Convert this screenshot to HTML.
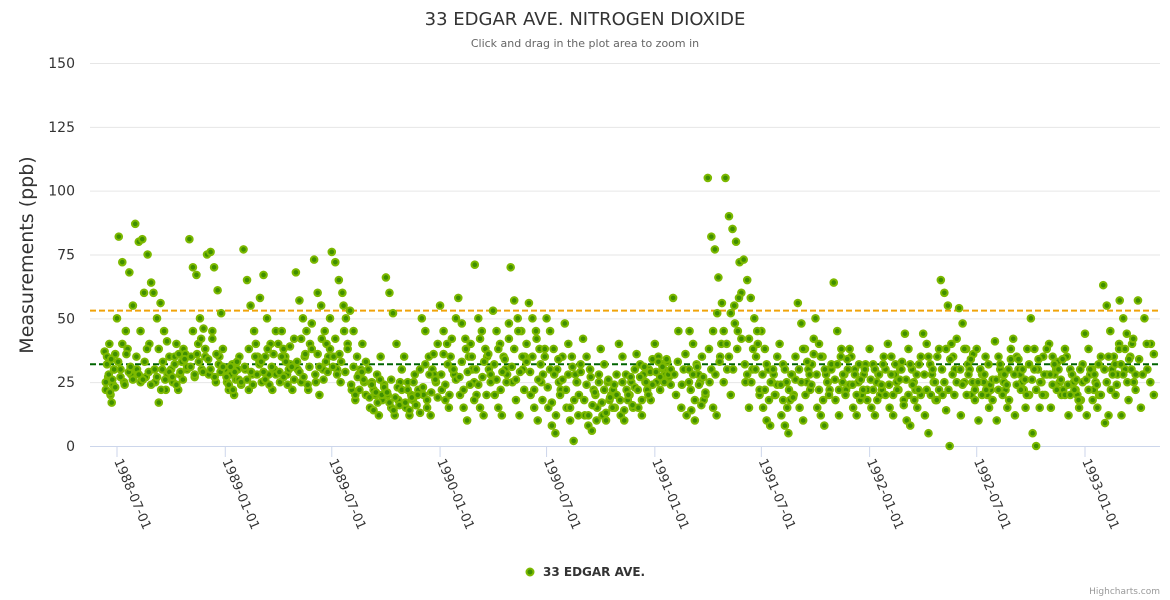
<!DOCTYPE html>
<html><head><meta charset="utf-8"><style>
html,body{margin:0;padding:0;background:#fff;}
svg{display:block;font-family:"DejaVu Sans","Liberation Sans",sans-serif;}
</style></head><body>
<svg id="chart" width="1170" height="600" xmlns="http://www.w3.org/2000/svg">
<rect width="1170" height="600" fill="#fff"/>
<text x="585" y="25" text-anchor="middle" font-size="18" fill="#333">33 EDGAR AVE. NITROGEN DIOXIDE</text>
<text x="585" y="47" text-anchor="middle" font-size="11" fill="#666">Click and drag in the plot area to zoom in</text>
<text transform="translate(33,255) rotate(-90)" text-anchor="middle" font-size="19" fill="#333">Measurements (ppb)</text>
<g id="grid"></g><g id="ylabels"></g><g id="xaxis"></g><g id="plotlines"></g><g id="points"></g>
<g>
<circle cx="530" cy="572" r="3.5" fill="#3f8f00" stroke="#7cb900" stroke-width="2"/>
<text x="543" y="576" font-size="12" font-weight="bold" fill="#333">33 EDGAR AVE.</text>
</g>
<text x="1160" y="594" text-anchor="end" font-size="9" fill="#999">Highcharts.com</text>
</svg>
<script>
const yTicks=[0,25,50,75,100,125,150];
const xTickLabels=["1988-07-01","1989-01-01","1989-07-01","1990-01-01","1990-07-01","1991-01-01","1991-07-01","1992-01-01","1992-07-01","1993-01-01"];
const refLines=[53,32];
const startMonth=[1988,5];
const monthStartDay=[10];
const monthlyValues=[
[37,22,35,27,40,20,17,24,30,36],
[50,82,30,72,25,45,38,68,28,55],
[87,30,80,25,81,60,27,75,40,64],
[60,25,50,17,56,30,45,22,28,35],
[30,25,35,40,22,28,33,38,36,30],
[81,35,70,27,67,40,50,30,46,38],
[75,28,76,45,70,25,61,35,52,38],
[30,25,22,28,32,20,26,30,35,24],
[77,30,65,22,55,28,45,40,35,33],
[58,25,67,35,50,28,40,22,30,45],
[40,25,45,38,35,28,30,32,22,42],
[68,30,57,25,50,35,45,22,40,48],
[73,25,60,20,55,30,45,40,35,50],
[76,35,72,30,65,25,60,45,50,40],
[53,22,45,18,35,28,30,40,25,20],
[30,15,25,22,20,28,12,35,18,24],
[66,20,60,15,52,12,40,18,25,30],
[35,15,25,12,20,18,28,16,22,30],
[50,20,45,15,35,12,30,28,25,40],
[55,22,45,18,40,15,35,30,28,50],
[58,20,48,15,42,10,35,40,30,25],
[71,20,50,15,45,12,38,35,30,25],
[53,20,45,15,40,12,35,30,28,48],
[70,25,57,18,50,12,45,30,35,40],
[56,20,50,15,45,10,38,25,28,35],
[50,15,45,8,38,5,30,25,22,35],
[48,15,40,10,35,2,28,25,20,32],
[42,12,35,8,30,6,22,20,15,28],
[38,12,32,10,25,18,20,22,15,28],
[40,12,35,10,28,18,20,25,15,30],
[36,15,32,12,28,25,22,30,18,34],
[40,25,35,22,32,30,28,33,27,24],
[58,20,45,15,30,12,25],
[45,14,40,10,32,28,25,35,18,20],
[105,25,82,15,77,12,66,35,56,45],
[105,30,90,20,85,55,80,45,72,60],
[73,25,65,15,58,30,50,35,40,20],
[45,15,38,10,30,8,25,28,20,35],
[40,12,32,8,25,5,18,28,20,35],
[56,15,48,10,38,25,30,22,32,42],
[50,15,40,12,35,8,28,25,22,30],
[64,18,45,12,35,25,28,22,30,38],
[35,15,30,12,25,18,20,28,32,22],
[38,15,32,12,25,28,20,22,35,30],
[40,15,35,12,28,25,22,30,33,18],
[44,10,38,8,30,25,22,15,32,20],
[44,12,40,5,32,28,25,18,35,22],
[65,20,60,14,55,0,40,35,30,25],
[54,12,48,25,38,32,30,20,36,18],
[38,10,30,28,25,35,20,15,22,18],
[41,10,35,30,28,25,22,15,18,38],
[42,12,35,30,28,25,22,15,38,20],
[50,5,38,0,30,15,25,35,20,28],
[40,15,35,28,30,33,25,20,22,38],
[35,12,30,28,25,22,20,15,18,32],
[44,12,38,28,30,22,25,15,20,35],
[63,9,55,12,45,30,35,20,28,40],
[57,12,50,30,44,18,35,40,25,22],
[57,15,50,30,40,20]
];
const monthlyValuesB=[
[25,32,28,21,34,26,30,23],
[33,27,40,24,36,29,31,26],
[35,28,45,26,33,38,29,24],
[30,27,38,22,33,26,41,29],
[27,32,24,36,29,26,34,31],
[31,45,28,36,33,42,29,35],
[34,30,42,27,36,32,29,31],
[27,24,31,22,29,33,26,25],
[31,26,38,29,24,35,28,32],
[33,29,26,38,24,31,36,28],
[29,35,27,33,24,39,31,26],
[33,29,42,27,36,24,31,38],
[28,36,31,42,26,33,29,38],
[31,42,28,36,33,55,29,38],
[24,31,20,27,22,29,26,33],
[19,24,14,21,17,26,20,23],
[21,17,26,14,19,23,16,22],
[17,22,14,19,25,16,20,13],
[23,32,18,28,21,36,26,19],
[28,36,24,32,20,42,30,26],
[27,33,22,38,29,24,35,18],
[30,24,42,27,33,20,36,28],
[32,26,38,22,29,34,25,42],
[31,38,26,45,29,35,22,33],
[29,35,22,42,26,32,18,38],
[23,30,17,28,12,34,20,26],
[22,28,15,31,18,25,12,29],
[18,24,12,27,16,21,10,25],
[17,22,13,26,19,15,24,20],
[18,25,14,22,20,27,16,23],
[22,27,18,31,25,20,29,24],
[29,33,27,31,25,34,28,30],
[28,33,24,36,30],
[22,28,18,31,24,16,27,21],
[38,30,45,28,52,33,40,25],
[40,35,52,30,48,38,58,42],
[32,28,42,25,38,30,45,22],
[28,22,32,18,25,30,20,24],
[24,18,30,15,22,28,19,26],
[30,25,38,20,33,28,24,36],
[28,22,35,18,30,25,20,32],
[26,32,22,38,28,20,34,24],
[24,28,20,32,26,22,30,18],
[26,22,30,18,28,24,32,20],
[24,28,20,32,22,26,30,16],
[26,20,32,24,18,28,22,35],
[28,22,35,20,30,25,18,38],
[30,25,38,22,34,28,20,42],
[30,24,38,20,28,34,25,22],
[25,30,20,28,22,32,24,26],
[26,22,32,20,28,24,30,34],
[28,24,34,22,30,26,20,32],
[26,30,22,34,25,20,28,38],
[28,24,32,22,30,26,34,20],
[24,20,28,22,26,18,30,25],
[26,22,30,18,28,24,32,20],
[30,25,35,22,28,32,24,38],
[32,28,38,25,34,30,42,28],
[34,28,40,25,36]
];
const NS="http://www.w3.org/2000/svg";
const X0=new Date(1988,6,1).getTime(), X1=new Date(1993,0,1).getTime();
function xScale(d){return 117+(d.getTime()-X0)/(X1-X0)*968;}
function yScale(v){return 446-v*383/150;}
function mk(tag,attrs,parent){const e=document.createElementNS(NS,tag);for(const k in attrs)e.setAttribute(k,attrs[k]);parent.appendChild(e);return e;}
const grid=document.getElementById('grid'),yl=document.getElementById('ylabels');
yTicks.forEach(v=>{
  const l=mk('line',{x1:90,x2:1160,y1:yScale(v)+0.5,y2:yScale(v)+0.5,stroke:v===0?'#ccd6eb':'#e6e6e6','stroke-width':1},grid);
  
  
  const t=mk('text',{x:75,y:yScale(v)+5,'text-anchor':'end','font-size':14,fill:'#333'},yl);
  t.textContent=v;
  
  
});
const xa=document.getElementById('xaxis');
xTickLabels.forEach(s=>{
  const p=s.split('-');const x=xScale(new Date(+p[0],+p[1]-1,+p[2]));
  const tk=mk('line',{x1:x,x2:x,y1:447,y2:457,stroke:'#ccd6eb'},xa);
  
  
  const t=mk('text',{transform:`translate(${x-3},461) rotate(67)`,'font-size':13,fill:'#333'},xa);
  t.textContent=s;
  
  
});
const pl=document.getElementById('plotlines');
const cols=['#f0a30a','#006400'];
refLines.forEach((v,i)=>{
  const l=mk('line',{x1:90,x2:1160,y1:yScale(v),y2:yScale(v),stroke:cols[i],'stroke-width':2,'stroke-dasharray':'6,3'},pl);
  
  
});
const pts=document.getElementById('points');
function drawSeries(rows,offset){
  rows.forEach((row,m)=>{
    const y=startMonth[0]+Math.floor((startMonth[1]+m)/12), mo=(startMonth[1]+m)%12;
    const s=(m===0?monthStartDay[0]:1)+offset;
    const step=row.length>1?(28-s)/(row.length-1):0;
    row.forEach((v,i)=>{
      const d=new Date(y,mo,Math.round(s+i*step));
      const c=mk('circle',{cx:xScale(d),cy:yScale(v),r:3.3,fill:'#3f8f00',stroke:'#7cb900','stroke-width':2},pts);
      
      
    });
  });
}
drawSeries(monthlyValues,0);
drawSeries(monthlyValuesB,2);
</script>
</body></html>
